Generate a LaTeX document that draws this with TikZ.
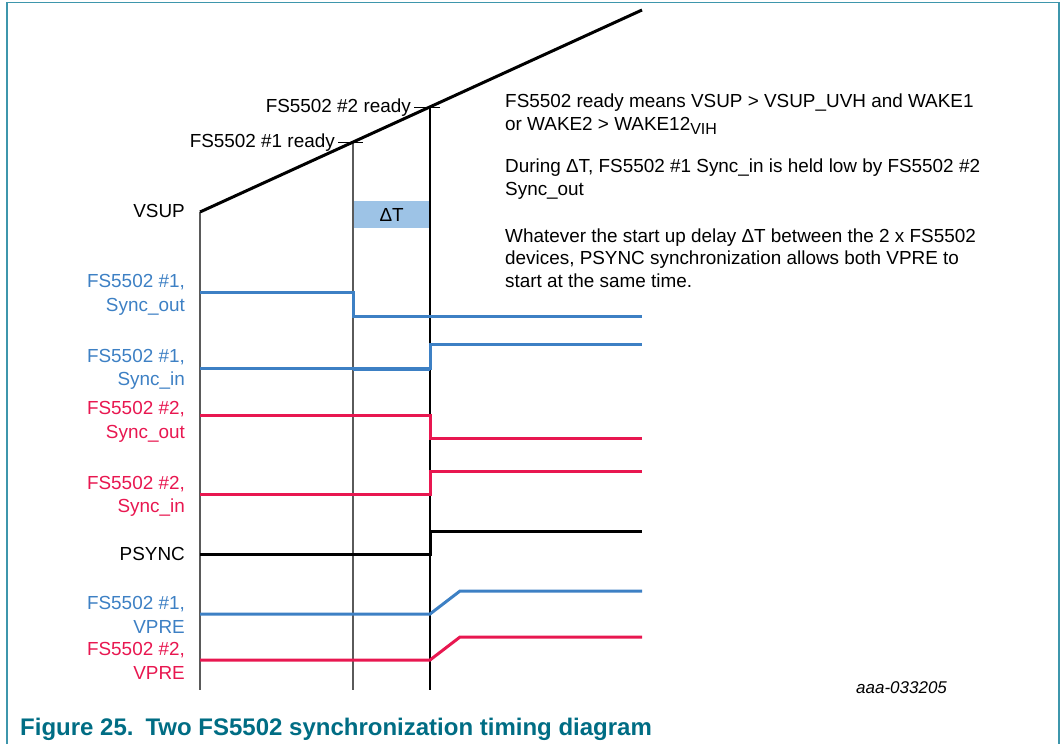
\documentclass[tikz,border=0pt]{standalone}
\usepackage{fontspec}
\setmainfont{Liberation Sans}
\usepackage{tikz}
\usetikzlibrary{positioning}

\definecolor{sigblue}{RGB}{61,128,196}
\definecolor{sigred}{RGB}{232,23,80}
\definecolor{framecol}{RGB}{62,150,172}
\definecolor{capteal}{RGB}{0,109,132}
\definecolor{dtfill}{RGB}{157,195,230}
\definecolor{tgray}{RGB}{90,90,90}

\begin{document}
\begin{tikzpicture}[
  x=1pt, y=-1pt,
  txt/.style={inner sep=0pt, font=\fontsize{18.9}{22.5}\selectfont},
  lbl/.style={inner sep=0pt, font=\fontsize{18.9}{23.5}\selectfont, anchor=east, align=right},
  note/.style={txt, anchor=west, align=left},
  sig/.style={line width=3pt, line join=miter},
  tline/.style={line width=1.5pt, tgray}
]
\useasboundingbox (0,0) rectangle (1064,744);
\draw[framecol, line width=1.5pt] (7,744) -- (7,2.5) -- (1059,2.5) -- (1059,744);

\node[fill=dtfill, minimum width=77pt, minimum height=27pt, inner sep=0pt, anchor=north west, txt] (dt) at (353,201) {ΔT};

\draw[tline] (200,212) -- (200,690);
\draw[tline] (353,142) -- (353,690);
\draw[line width=1.2pt] (430,107) -- (430,690);

\draw[line width=3pt] (200,212) -- (642,10);
\coordinate (tick1) at (338,142);
\coordinate (tick2) at (414,107);
\draw[line width=1pt] (tick1) -- (363,142);
\draw[line width=1pt] (tick2) -- (440,107);
\node[txt, left=3pt of tick1, anchor=east, yshift=-1pt] (rdy1) {FS5502 \#1 ready};
\node[txt, left=3pt of tick2, anchor=east, yshift=-1pt] (rdy2) {FS5502 \#2 ready};

\draw[sig, sigblue] (200,292) -- (353,292) -- (353,316) -- (642,316);
\draw[sig, sigblue] (200,368) -- (430,368) -- (430,344) -- (642,344);
\draw[sigblue, line width=4.5pt] (353,368.8) -- (430,368.8);
\draw[sig, sigred] (200,415) -- (430,415) -- (430,438) -- (642,438);
\draw[sig, sigred] (200,494) -- (430,494) -- (430,471) -- (642,471);
\draw[sig, black] (200,554) -- (430,554) -- (430,531) -- (642,531);
\draw[sig, sigblue] (200,614) -- (430,614) -- (460,591) -- (642,591);
\draw[sig, sigred] (200,660) -- (430,660) -- (460,637) -- (642,637);

\node[lbl] (vsup) at (185,211) {VSUP};
\node[lbl, text=sigblue] (sout1) at (185,295) {FS5502 \#1,\\Sync\_out};
\node[lbl, text=sigblue] (sin1) at (185,369.5) {FS5502 \#1,\\Sync\_in};
\node[lbl, text=sigred] (sout2) at (185,422) {FS5502 \#2,\\Sync\_out};
\node[lbl, text=sigred] (sin2) at (185,496.5) {FS5502 \#2,\\Sync\_in};
\node[lbl] (psync) at (185,554) {PSYNC};
\node[lbl, text=sigblue] (vpre1) at (185,615) {FS5502 \#1,\\VPRE};
\node[lbl, text=sigred] (vpre2) at (185,661) {FS5502 \#2,\\VPRE};

\node[note] (note1) at (505,114.5) {FS5502 ready means VSUP > VSUP\_UVH and WAKE1\\or WAKE2 > WAKE12\raisebox{-0.25em}{\fontsize{16}{16}\selectfont VIH}};
\node[note] (note2) at (505,179) {During ΔT, FS5502 \#1 Sync\_in is held low by FS5502 \#2\\Sync\_out};
\node[note] (note3) at (505,258) {Whatever the start up delay ΔT between the 2 x FS5502\\devices, PSYNC synchronization allows both VPRE to\\start at the same time.};

\node[inner sep=0pt, anchor=west, font=\itshape\fontsize{17}{19}\selectfont] (docid) at (856,688) {aaa-033205};
\node[inner sep=0pt, anchor=west, text=capteal, font=\bfseries\fontsize{24}{28}\selectfont] (caption) at (20,729) {Figure 25.\hspace{12pt}Two FS5502 synchronization timing diagram};
\end{tikzpicture}
\end{document}
